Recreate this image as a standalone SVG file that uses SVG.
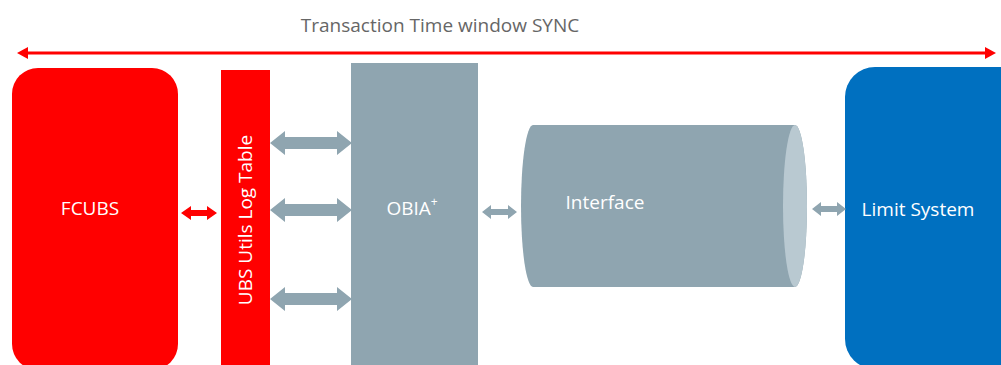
<svg xmlns="http://www.w3.org/2000/svg" width="1001" height="365" viewBox="0 0 1001 365">
<style>
.lbl{font-family:"Open Sans","Noto Sans",sans-serif;font-size:19px;fill:#ffffff;text-anchor:middle;dominant-baseline:central}
.red{fill:#ff0000}
.gray{fill:#8fa5b0}
</style>
<rect width="1001" height="365" fill="#ffffff"/>
<text x="440" y="25" style="font-family:'Open Sans','Noto Sans',sans-serif;font-size:19px;fill:#666666;text-anchor:middle;dominant-baseline:central">Transaction Time window SYNC</text>
<g id="sync-arrow">
<line x1="24" y1="53" x2="989" y2="53" stroke="#ff0000" stroke-width="3"/>
<polygon class="red" points="17,53 28,47 28,59"/>
<polygon class="red" points="996,53 985,47 985,59"/>
</g>
<g id="fcubs">
<rect x="12" y="68" width="166" height="302" rx="26" class="red"/>
<text x="90" y="208" class="lbl">FCUBS</text>
</g>
<g id="ubs-utils">
<rect x="221" y="70" width="49" height="300" class="red"/>
<text class="lbl" transform="translate(245,220) rotate(-90)">UBS Utils Log Table</text>
</g>
<g id="obia">
<rect x="351" y="63" width="127" height="310" class="gray"/>
<text x="412" y="208" class="lbl">OBIA<tspan dy="-7" font-size="12">+</tspan></text>
</g>
<g id="interface">
<path d="M533 125 L795 125 A12 81 0 0 1 795 287 L533 287 A12 81 0 0 1 533 125 Z" class="gray"/>
<ellipse cx="795" cy="206" rx="12" ry="81" fill="#b9c9d1"/>
<text x="605" y="202" class="lbl">Interface</text>
</g>
<g id="limit-system">
<rect x="845" y="67" width="190" height="302" rx="30" fill="#0070c0"/>
<text x="918" y="209" class="lbl">Limit System</text>
</g>
<g id="connectors">
<polygon class="red" points="181,213 191,206 191,210 207,210 207,206 217,213 207,220 207,216 191,216 191,220"/>
<polygon class="gray" points="270,143 285,131 285,137 337,137 337,131 352,143 337,155 337,149 285,149 285,155"/>
<polygon class="gray" points="270,210 285,198 285,204 337,204 337,198 352,210 337,222 337,216 285,216 285,222"/>
<polygon class="gray" points="270,299 285,287 285,293 337,293 337,287 352,299 337,311 337,305 285,305 285,311"/>
<polygon class="gray" points="482,212 491,205 491,209 508,209 508,205 517,212 508,219 508,215 491,215 491,219"/>
<polygon class="gray" points="812,209 821,202 821,206 837,206 837,202 846,209 837,216 837,212 821,212 821,216"/>
</g>
</svg>
